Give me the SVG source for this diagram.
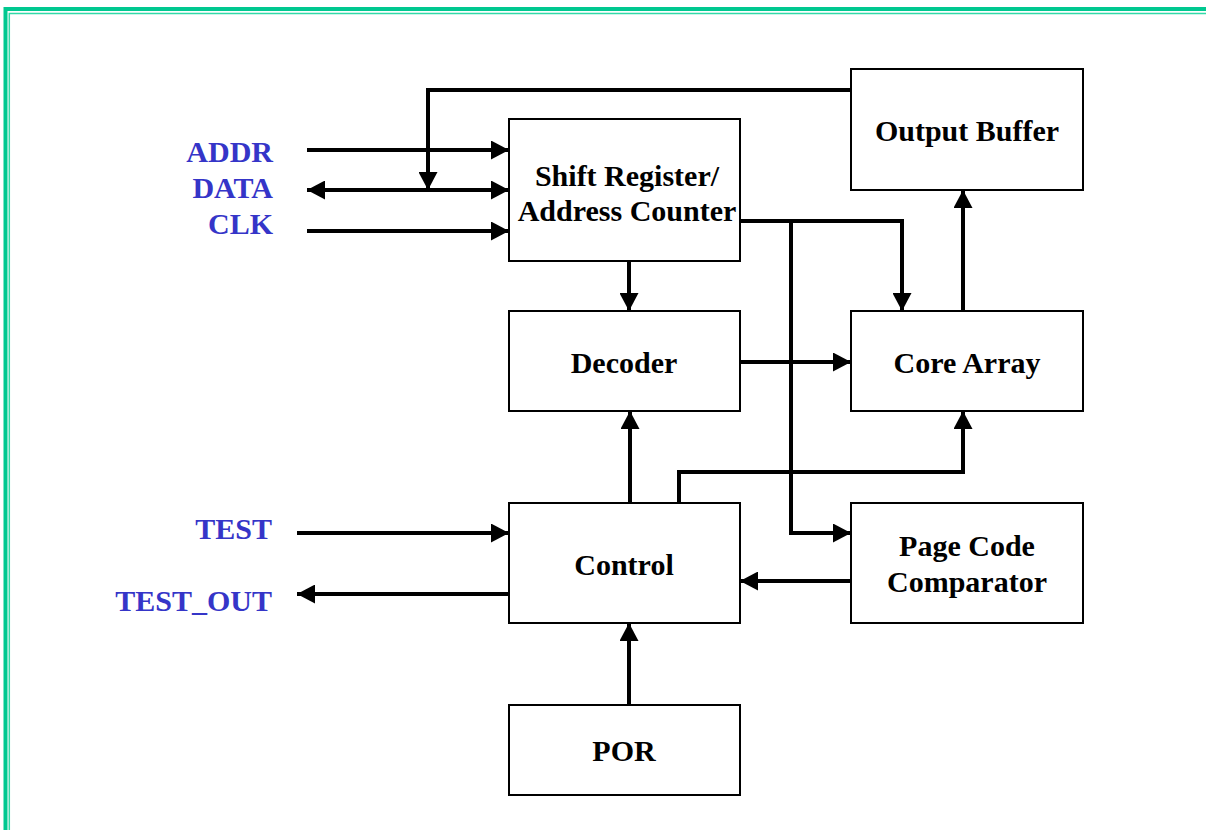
<svg xmlns="http://www.w3.org/2000/svg" width="1206" height="830" viewBox="0 0 1206 830">
<style>
.box{fill:#fff;stroke:#000;stroke-width:2}
.t{font-family:"Liberation Serif","Times New Roman",serif;font-weight:bold;font-size:30px;fill:#000;text-anchor:middle}
.lbl{font-family:"Liberation Serif","Times New Roman",serif;font-weight:bold;font-size:30px;fill:#3535C8;text-anchor:end}
.w{fill:none;stroke:#000;stroke-width:4}
</style>
<defs>
<marker id="ah" viewBox="0 0 18 19" refX="18" refY="9.5" markerUnits="userSpaceOnUse" markerWidth="18" markerHeight="19" orient="auto-start-reverse">
<path d="M0,0 L18,9.5 L0,19 Z" fill="#000"/>
</marker>
</defs>
<rect x="0" y="0" width="1206" height="830" fill="#fff"/>
<g id="border">
<path d="M5.5,840 V9 H1220" fill="none" stroke="#00C890" stroke-width="4"/>
<path d="M9.3,840 V13.5 H1220" fill="none" stroke="#33D9A8" stroke-width="1.5"/>
</g>
<g id="connectors">
<path class="w" d="M307,150 H509" marker-end="url(#ah)"/>
<path class="w" d="M307,190 H509" marker-start="url(#ah)" marker-end="url(#ah)"/>
<path class="w" d="M307,231 H509" marker-end="url(#ah)"/>
<path class="w" d="M851,90 H428 V190" marker-end="url(#ah)"/>
<path class="w" d="M740,221 H902 V311" marker-end="url(#ah)"/>
<path class="w" d="M791,221 V533 H851" marker-end="url(#ah)"/>
<path class="w" d="M629,261 V311" marker-end="url(#ah)"/>
<path class="w" d="M740,362 H851" marker-end="url(#ah)"/>
<path class="w" d="M630,503 V411" marker-end="url(#ah)"/>
<path class="w" d="M679,503 V472 H963 V411" marker-end="url(#ah)"/>
<path class="w" d="M963,311 V190" marker-end="url(#ah)"/>
<path class="w" d="M297,533 H509" marker-end="url(#ah)"/>
<path class="w" d="M509,594 H297" marker-end="url(#ah)"/>
<path class="w" d="M851,581 H740" marker-end="url(#ah)"/>
<path class="w" d="M629,705 V623" marker-end="url(#ah)"/>
</g>
<g id="labels">
<text class="lbl" x="273" y="162">ADDR</text>
<text class="lbl" x="273" y="198">DATA</text>
<text class="lbl" x="273" y="234">CLK</text>
<text class="lbl" x="272" y="539">TEST</text>
<text class="lbl" x="272" y="611">TEST_OUT</text>
</g>
<g id="output-buffer">
<rect class="box" x="851" y="69" width="232" height="121"/>
<text class="t" x="967" y="141">Output Buffer</text>
</g>
<g id="shift-register">
<rect class="box" x="509" y="119" width="231" height="142"/>
<text class="t" x="627" y="186">Shift Register/</text>
<text class="t" x="627" y="221">Address Counter</text>
</g>
<g id="decoder">
<rect class="box" x="509" y="311" width="231" height="100"/>
<text class="t" x="624" y="373">Decoder</text>
</g>
<g id="core-array">
<rect class="box" x="851" y="311" width="232" height="100"/>
<text class="t" x="967" y="373">Core Array</text>
</g>
<g id="control">
<rect class="box" x="509" y="503" width="231" height="120"/>
<text class="t" x="624" y="575">Control</text>
</g>
<g id="page-code-comparator">
<rect class="box" x="851" y="503" width="232" height="120"/>
<text class="t" x="967" y="556">Page Code</text>
<text class="t" x="967" y="592">Comparator</text>
</g>
<g id="por">
<rect class="box" x="509" y="705" width="231" height="90"/>
<text class="t" x="624" y="761">POR</text>
</g>
</svg>
